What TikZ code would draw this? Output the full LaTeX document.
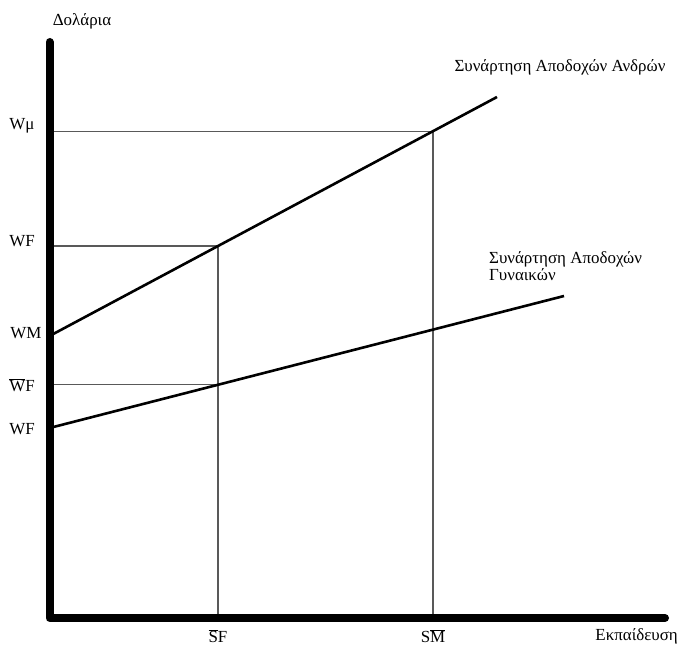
\documentclass[tikz,border=0pt]{standalone}
\usepackage{fontspec}
\setmainfont{Liberation Serif}
\usetikzlibrary{calc}

\begin{document}
\begin{tikzpicture}[x=1bp,y=-1bp,
    axis/.style={line width=8bp, line cap=round, line join=round},
    curve/.style={line width=2.6bp},
    guide/.style={line width=1.2bp, color=black!65},
    lbl/.style={font=\fontsize{17}{14}\selectfont, inner sep=0pt}]
    %%%%% START %%%%%
    \useasboundingbox (0,0) rectangle (678,646);

    \coordinate (O) at (49.5,618);
    \coordinate (ytop) at (49.5,42);
    \coordinate (xend) at (665,618);

    \coordinate (m0) at (49.5,336);
    \coordinate (m1) at (497,97);
    \coordinate (f0) at (49.5,428);
    \coordinate (f1) at (564,296);

    \coordinate (mhi) at ($(m0)!0.857!(m1)$);
    \coordinate (mlo) at ($(m0)!0.3765!(m1)$);
    \coordinate (flo) at ($(f0)!0.3275!(f1)$);

    % guide lines
    \draw[guide] (O |- mhi) -- (mhi) -- (mhi |- O);
    \draw[guide] (O |- mlo) -- (mlo) -- (mlo |- O);
    \draw[guide] (O |- flo) -- (flo);

    % earnings lines
    \draw[curve] (m0) -- (m1);
    \draw[curve] (f0) -- (f1);

    \draw[axis] (ytop) -- (O) -- (xend);

    % labels
    \node[lbl] (dol) at (82,21) {Δολάρια};
    \node[lbl] (ekp) [anchor=east] at (678,636) {Εκπαίδευση};
    \node[lbl] (wmu) at (22,126) {Wμ};
    \node[lbl] (wf1) at (22,241) {WF};
    \node[lbl] (wm) at (26,333) {WM};
    \node[lbl] (wf2) at (22,385) {$\overline{\mbox{W}}$F};
    \node[lbl] (wf3) at (22,429) {WF};
    \node[lbl] (sf) at ($(mlo |- O)+(0,18)$) {$\overline{\mbox{S}}$F};
    \node[lbl] (sm) at ($(mhi |- O)+(0,18)$) {S$\overline{\mbox{M}}$};
    \node[lbl] (andr) at (560,67) {Συνάρτηση Αποδοχών Ανδρών};
    \node[lbl, align=left, anchor=west] (gyn) at (489,266) {Συνάρτηση Αποδοχών\\Γυναικών};

    %%%%% END %%%%%
\end{tikzpicture}
\end{document}
